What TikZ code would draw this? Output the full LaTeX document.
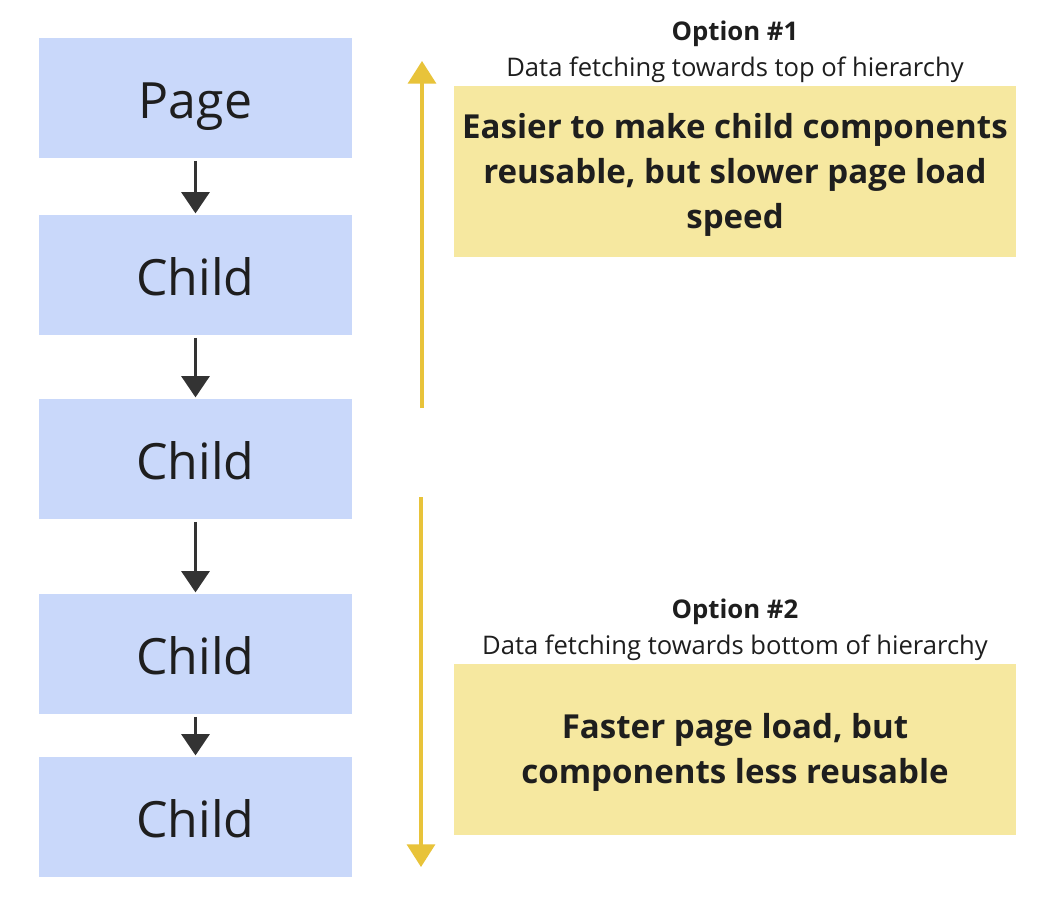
\documentclass[tikz,border=0pt]{standalone}
\usepackage{fontspec}
\setmainfont{Open Sans}
\usetikzlibrary{arrows.meta}
\definecolor{boxblue}{HTML}{C9D8FA}
\definecolor{noteyellow}{HTML}{F6E8A0}
\definecolor{arrowyellow}{HTML}{E8C33A}
\definecolor{darktext}{HTML}{1E1E1E}
\definecolor{darkarrow}{HTML}{333333}
\tikzset{
  compbox/.style={fill=boxblue, draw=none, minimum width=313*0.75pt, minimum height=120*0.75pt, inner sep=0pt,
    text height=30pt, text depth=0pt,
    font=\fontsize{37.5}{40}\selectfont, text=darktext},
  notebox/.style={fill=noteyellow, draw=none, minimum width=562*0.75pt, minimum height=171*0.75pt, inner sep=0pt,
    font=\fontsize{24.8}{33.75}\selectfont\bfseries, text=darktext, align=center},
  flowarrow/.style={draw=darkarrow, line width=2.4pt, -{Triangle[width=21pt,length=16pt]}},
  yarrow/.style={draw=arrowyellow, line width=2.5pt, -{Triangle[width=21pt,length=17pt]}},
  optitle/.style={font=\fontsize{19.3}{22}\selectfont\bfseries, text=darktext},
  opsub/.style={font=\fontsize{19.2}{22}\selectfont, text=darktext},
}
\begin{document}
\begin{tikzpicture}[x=0.75pt,y=-0.75pt]
\useasboundingbox (0,0) rectangle (1054,910);
\fill[white] (0,0) rectangle (1054,910);
\node[compbox] (page) at (195.5,98) {Page};
\node[compbox] (c1) at (195.5,275) {Child};
\node[compbox] (c2) at (195.5,459) {Child};
\node[compbox] (c3) at (195.5,654) {Child};
\node[compbox] (c4) at (195.5,817) {Child};
\draw[flowarrow] ([yshift=-2pt]page.south) -- ([yshift=1pt]c1.north);
\draw[flowarrow] ([yshift=-2pt]c1.south) -- ([yshift=1pt]c2.north);
\draw[flowarrow] ([yshift=-2pt]c2.south) -- ([yshift=1pt]c3.north);
\draw[flowarrow] ([yshift=-2pt]c3.south) -- ([yshift=1pt]c4.north);
\coordinate (u1) at (422,408);
\coordinate (u2) at (422,61);
\coordinate (d1) at (421,497);
\coordinate (d2) at (421,867);
\draw[yarrow] (u1) -- (u2);
\draw[yarrow] (d1) -- (d2);
\node[optitle] (o1) at (735,34) {Option \#1};
\node[opsub] (s1) at (735,70) {Data fetching towards top of hierarchy};
\node[notebox] (n1) at (735,171.5) {};
\node[font=\fontsize{24.8}{33.75}\selectfont\bfseries, text=darktext, align=center] (t1) at (735,174.5) {Easier to make child components\\reusable, but slower page load\\speed};
\node[optitle] (o2) at (735,612) {Option \#2};
\node[opsub] (s2) at (735,648) {Data fetching towards bottom of hierarchy};
\node[notebox] (n2) at (735,749.5) {};
\node[font=\fontsize{24.8}{33.75}\selectfont\bfseries, text=darktext, align=center] (t2) at (735,752) {Faster page load, but\\components less reusable};
\end{tikzpicture}
\end{document}
